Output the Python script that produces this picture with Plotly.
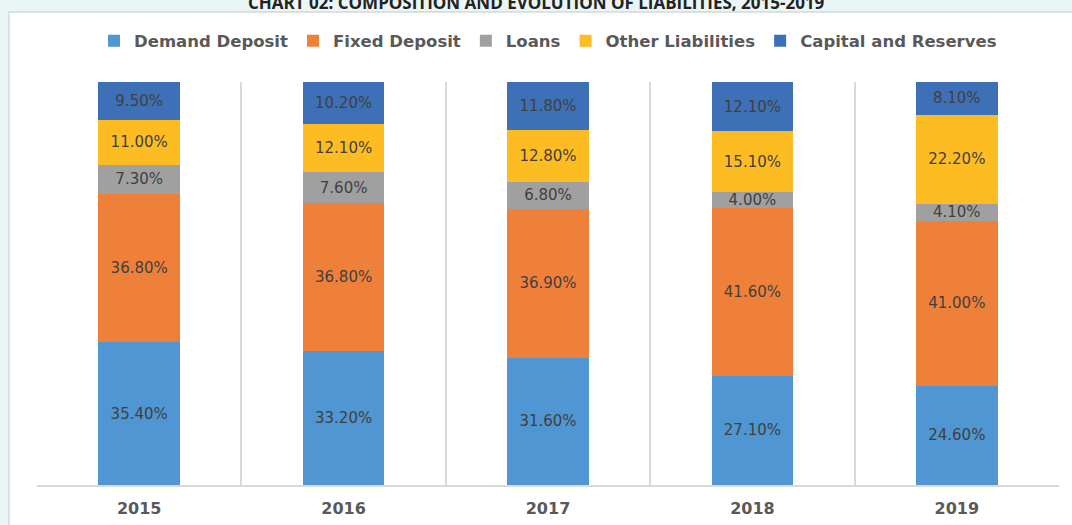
import plotly.graph_objects as go

years = ["2015", "2016", "2017", "2018", "2019"]
demand_deposit = [35.4, 33.2, 31.6, 27.1, 24.6]
fixed_deposit = [36.8, 36.8, 36.9, 41.6, 41.0]
loans = [7.3, 7.6, 6.8, 4.0, 4.1]
other_liabilities = [11.0, 12.1, 12.8, 15.1, 22.2]
capital_reserves = [9.5, 10.2, 11.8, 12.1, 8.1]

series = [
    ("Demand Deposit", demand_deposit, "#4f96d2"),
    ("Fixed Deposit", fixed_deposit, "#ef8039"),
    ("Loans", loans, "#a0a0a0"),
    ("Other Liabilities", other_liabilities, "#fdbd22"),
    ("Capital and Reserves", capital_reserves, "#3e70b8"),
]

xpos = list(range(len(years)))

fig = go.Figure()
for name, vals, color in series:
    fig.add_trace(go.Bar(
        x=xpos, y=vals, name=name, width=0.4,
        marker=dict(color=color, line=dict(width=0)),
        text=[f"{v:.2f}%" for v in vals],
        textposition="inside", insidetextanchor="middle",
        textangle=0, constraintext="none",
        textfont=dict(family="DejaVu Sans", size=15, color="#404040"),
        hoverinfo="skip",
    ))

W, H = 1072, 525
L, R, T, B = 37, 13, 82, 40
pw, ph = W - L - R, H - T - B

def px2x(px):
    return (px - L) / pw

def py2y(py):
    return (H - B - py) / ph

fig.add_shape(type="rect", xref="paper", yref="paper",
              x0=px2x(9), x1=px2x(1090), y0=py2y(12), y1=py2y(540),
              fillcolor="white", line=dict(color="#d3d9d9", width=1.5), layer="below")

fig.add_annotation(text="<b>CHART 02: COMPOSITION AND EVOLUTION OF LIABILITIES, 2015-2019</b>",
                   xref="paper", yref="paper", x=px2x(536), y=py2y(16),
                   xanchor="center", yanchor="bottom", showarrow=False,
                   font=dict(family="Open Sans", size=17, color="#222222"))

fig.update_layout(
    width=W, height=H,
    margin=dict(l=L, r=R, t=T, b=B, autoexpand=False),
    barmode="stack",
    paper_bgcolor="#eaf5f5",
    plot_bgcolor="white",
    showlegend=True,
    legend=dict(orientation="h", x=0.5, xanchor="center", y=py2y(41), yanchor="middle",
                font=dict(family="DejaVu Sans", size=16.5, color="#595959", weight="bold"),
                bgcolor="rgba(0,0,0,0)", traceorder="normal", itemwidth=30),
    xaxis=dict(range=[-0.5, 4.5], tickvals=xpos, ticktext=years,
               showgrid=False, zeroline=False,
               showline=True, linecolor="#d9d9d9", linewidth=1.5,
               ticks="outside", ticklen=8, tickcolor="rgba(0,0,0,0)",
               tickfont=dict(family="DejaVu Sans", size=16, color="#595959", weight="bold"),
               minor=dict(tickvals=[-0.5, 0.5, 1.5, 2.5, 3.5, 4.5], showgrid=True,
                          gridcolor="#d9d9d9", gridwidth=1.5)),
    yaxis=dict(range=[0, 100], visible=False, showgrid=False),
)

fig.write_html("out.html", config={"displayModeBar": False},
               post_script="document.body.style.margin='0';document.body.style.overflow='hidden';")
